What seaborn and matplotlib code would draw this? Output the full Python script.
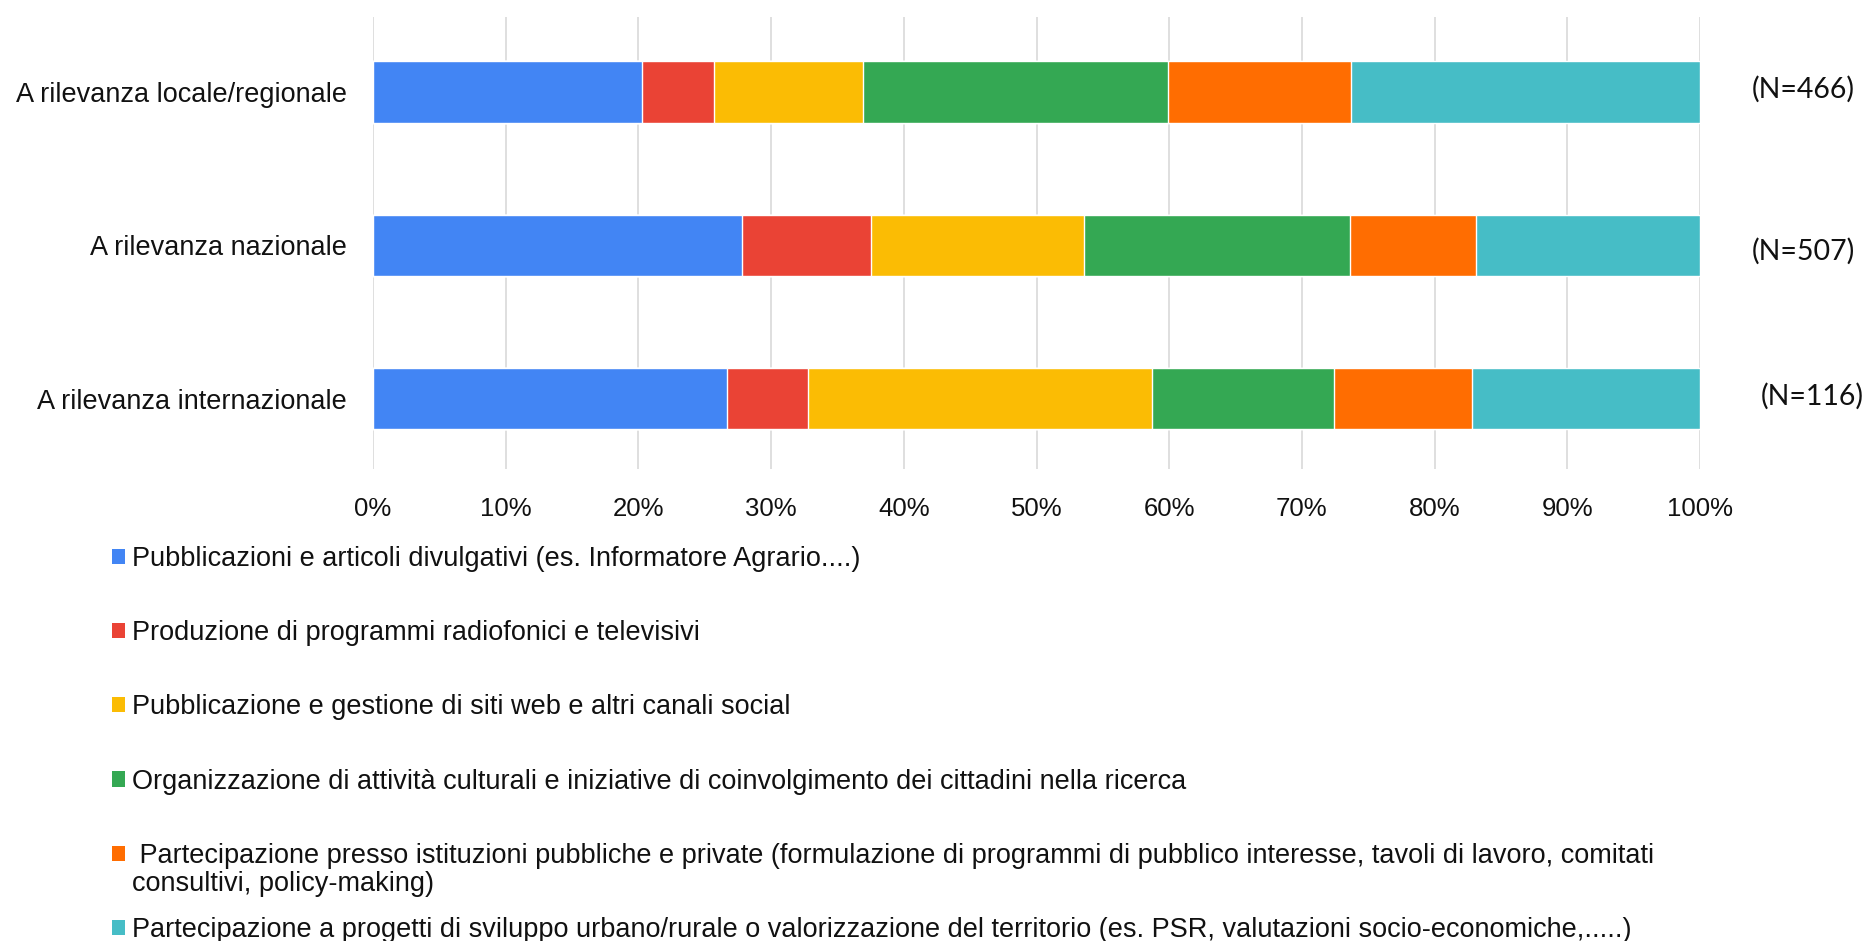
import numpy as np
import matplotlib
matplotlib.use("Agg")
import matplotlib.pyplot as plt
from matplotlib.patches import Patch
import seaborn as sns

# Data (percent of mentions per category)

categories = ["A rilevanza locale/regionale", "A rilevanza nazionale", "A rilevanza internazionale"]
n_counts = [466, 507, 116]

pubblicazioni = [20.3, 27.8, 26.7]
radio_tv = [5.4, 9.7, 6.1]
siti_web = [11.2, 16.1, 25.9]
attivita_culturali = [23.0, 20.0, 13.7]
istituzioni = [13.8, 9.5, 10.4]
sviluppo_territorio = [26.3, 16.9, 17.2]

series_labels = [
    "Pubblicazioni e articoli divulgativi (es. Informatore Agrario....)",
    "Produzione di programmi radiofonici e televisivi",
    "Pubblicazione e gestione di siti web e altri canali social",
    "Organizzazione di attività culturali e iniziative di coinvolgimento dei cittadini nella ricerca",
    " Partecipazione presso istituzioni pubbliche e private (formulazione di programmi di pubblico interesse, tavoli di lavoro, comitati",
    "Partecipazione a progetti di sviluppo urbano/rurale o valorizzazione del territorio (es. PSR, valutazioni socio-economiche,.....)",
]
label_cont = "consultivi, policy-making)"

colors = ["#4285F4", "#EA4335", "#FBBC04", "#34A853", "#FF6D01", "#46BDC6"]

sns.set_style("white")
plt.rcParams["font.family"] = ["Liberation Sans", "DejaVu Sans"]

series = np.array([pubblicazioni, radio_tv, siti_web, attivita_culturali, istituzioni, sviluppo_territorio])
# normalise each row to 100 and stack
series = series / series.sum(axis=0) * 100
cum = np.cumsum(series, axis=0)

fig = plt.figure(figsize=(18.7, 9.41), dpi=100)
ax = fig.add_axes([373 / 1870, 1 - 469 / 941, 1327 / 1870, 452 / 941])

# draw from the full stack down so each segment shows
for i in range(len(series) - 1, -1, -1):
    sns.barplot(x=cum[i], y=categories, color=colors[i], width=0.4,
                orient="h", ax=ax, saturation=1, zorder=3)

ax.set_xlim(0, 100)
ax.set_ylim(2.46, -0.49)
ax.set_xticks(np.arange(0, 101, 10))
ax.set_xticklabels([f"{t}%" for t in range(0, 101, 10)])
ax.xaxis.grid(True, color="#d9d9d9", linewidth=1.2, zorder=0)
ax.set_axisbelow(True)
for s in ax.spines.values():
    s.set_visible(False)
ax.tick_params(axis="x", length=0, pad=20, labelsize=18.5, labelcolor="#111111")
ax.tick_params(axis="y", length=0, pad=19, labelsize=19.5, labelcolor="#111111")
ax.set_xlabel("")
ax.set_ylabel("")

# N labels on the right
n_xpos = [1.0776, 1.0776, 1.0844]
n_yoff = [-0.02, 0.04, -0.015]
for i, n in enumerate(n_counts):
    ax.text(n_xpos[i], i + n_yoff[i], f"(N={n})", transform=ax.get_yaxis_transform(),
            ha="center", va="center", fontsize=20.5, family=["Lato", "DejaVu Sans"], color="#111111")

handles = [Patch(facecolor=c, edgecolor="none") for c in colors]
leg = fig.legend(handles, series_labels, loc="upper left",
                 bbox_to_anchor=(112 / 1870, 1 - 546 / 941), bbox_transform=fig.transFigure,
                 frameon=False, fontsize=19.5, handlelength=0.48, handleheight=0.48,
                 handletextpad=0.27, labelspacing=1.78, borderpad=0, borderaxespad=0)
for t in leg.get_texts():
    t.set_color("#111111")

# continuation line of the 5th legend label
fig.canvas.draw()
bb = leg.get_texts()[4].get_window_extent()
fig.text(leg.get_texts()[0].get_window_extent().x0 / 1870, (bb.y0 - 28) / 941,
         label_cont, fontsize=19.5, color="#111111", va="bottom")

fig.savefig("out.png", dpi=100)
